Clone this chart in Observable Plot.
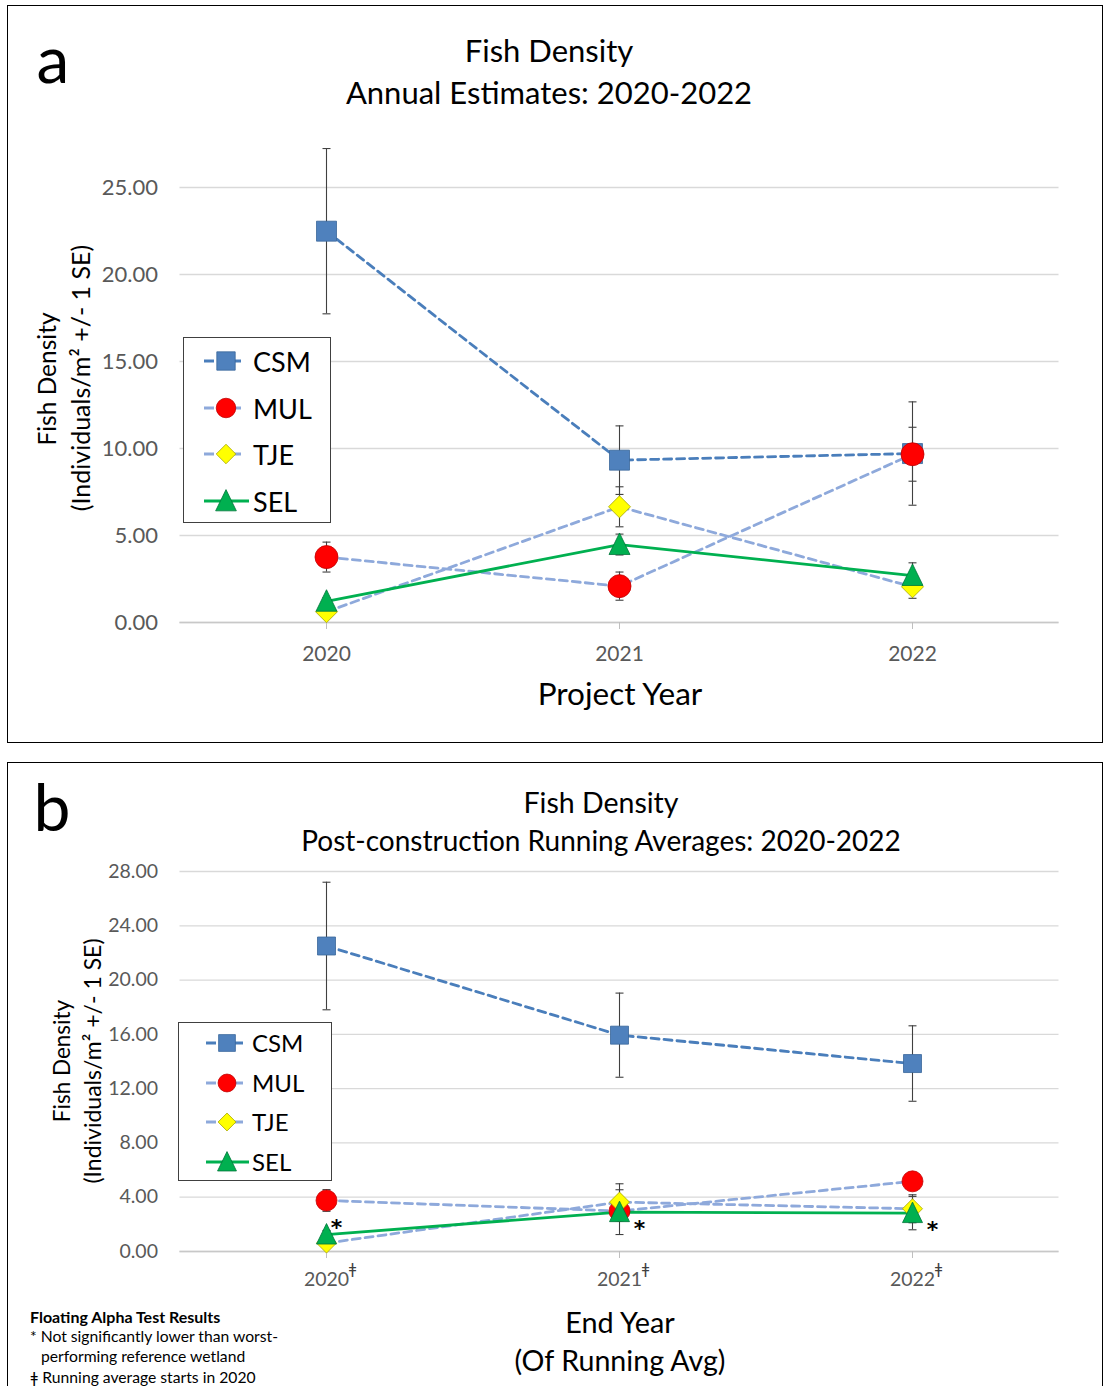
<!DOCTYPE html>
<html>
<head>
<meta charset="utf-8">
<script src="https://cdn.jsdelivr.net/npm/d3@7"></script>
<script src="https://cdn.jsdelivr.net/npm/@observablehq/plot@0.6"></script>
<style>
  html, body { margin: 0; padding: 0; background: #fff; }
  body { width: 1103px; height: 1386px; position: relative; overflow: hidden; font-family: Lato, "Open Sans", sans-serif; }
  .abs { position: absolute; white-space: nowrap; line-height: 1; }
  .panel { position: absolute; border: 1px solid #000; box-sizing: border-box; }
  .legend { position: absolute; border: 1px solid #404040; background: #fff; box-sizing: border-box; }
</style>
</head>
<body>
<script>
// ---------------- DATA ----------------
const years = [2020, 2021, 2022];
const seriesNames = ["CSM", "MUL", "TJE", "SEL"];

// Panel a: annual estimates (mean, +/- 1 SE)
const annualCSM = [22.49, 9.33, 9.71];
const annualCSMse = [4.75, 1.97, 2.97];
const annualMUL = [3.76, 2.09, 9.67];
const annualMULse = [0.86, 0.81, 1.55];
const annualTJE = [0.62, 6.65, 2.05];
const annualTJEse = [0.15, 1.15, 0.66];
const annualSEL = [1.22, 4.48, 2.70];
const annualSELse = [0.2, 0.6, 0.73];

// Panel b: post-construction running averages (mean, +/- 1 SE)
const runCSM = [22.51, 15.94, 13.85];
const runCSMse = [4.7, 3.1, 2.78];
const runMUL = [3.76, 2.98, 5.17];
const runMULse = [0.8, 0.5, 0.4];
const runTJE = [0.62, 3.64, 3.15];
const runTJEse = [0.2, 1.35, 1.03];
const runSEL = [1.25, 2.90, 2.83];
const runSELse = [0.3, 1.65, 1.23];
// Floating alpha test: SEL not significantly lower than worst reference wetland
const runSELflag = [true, true, true];

const yTicksA = [0, 5, 10, 15, 20, 25];
const yTicksB = [0, 4, 8, 12, 16, 20, 24, 28];

// ---------------- STYLE ----------------
const sym = (f) => ({ draw(c, size) { const r = Math.sqrt(size / Math.PI); f(c, r); } });
const squareSym = sym((c, r) => c.rect(-r, -r, 2 * r, 2 * r));
const circleSym = sym((c, r) => { c.moveTo(r, 0); c.arc(0, 0, r, 0, 2 * Math.PI); });
const diamondSym = sym((c, r) => { c.moveTo(0, -r); c.lineTo(r, 0); c.lineTo(0, r); c.lineTo(-r, 0); c.closePath(); });
const triSym = sym((c, r) => { c.moveTo(0, -r * 1.1); c.lineTo(r, r * 0.95); c.lineTo(-r, r * 0.95); c.closePath(); });
const capSym = sym((c, r) => { c.moveTo(-r, 0); c.lineTo(r, 0); });

const styles = {
  CSM: { line: "#4A7EBB", dash: "8,5", fill: "#4F81BD", stroke: "#3A679A", symbol: squareSym, ra: 10, rb: 9 },
  MUL: { line: "#8EA9DB", dash: "8,5", fill: "#FF0000", stroke: "#C00000", symbol: circleSym, ra: 11.5, rb: 10.5 },
  TJE: { line: "#8EA9DB", dash: "8,5", fill: "#FFFF00", stroke: "#A6A600", symbol: diamondSym, ra: 11, rb: 10 },
  SEL: { line: "#00B050", dash: null, fill: "#00B050", stroke: "#00763A", symbol: triSym, ra: 10.5, rb: 10 }
};

function buildRows(vals, ses) {
  const rows = [];
  seriesNames.forEach((s, i) => {
    years.forEach((yr, j) => rows.push({ series: s, year: yr, v: vals[i][j], se: ses[i][j] }));
  });
  return rows;
}
const rowsA = buildRows([annualCSM, annualMUL, annualTJE, annualSEL], [annualCSMse, annualMULse, annualTJEse, annualSELse]);
const rowsB = buildRows([runCSM, runMUL, runTJE, runSEL], [runCSMse, runMULse, runTJEse, runSELse]);

// ---------------- HELPERS ----------------
function addText(txt, x, y, opts = {}) {
  const d = document.createElement("div");
  d.className = "abs";
  d.textContent = txt;
  d.style.left = x + "px";
  d.style.top = y + "px";
  d.style.fontSize = (opts.size || 20) + "px";
  d.style.color = opts.color || "#000";
  if (opts.weight) d.style.fontWeight = opts.weight;
  const anchor = opts.anchor || "middle";
  let t = anchor === "middle" ? "translate(-50%,-50%)" : "translate(0,-50%)";
  if (opts.rotate) t += " rotate(" + opts.rotate + "deg)";
  d.style.transform = t;
  document.body.appendChild(d);
  return d;
}
function addBox(cls, l, t, w, h) {
  const d = document.createElement("div");
  d.className = cls;
  Object.assign(d.style, { left: l + "px", top: t + "px", width: w + "px", height: h + "px" });
  document.body.appendChild(d);
  return d;
}

function chart(rows, yTicks, cfg) {
  const marks = [
    Plot.ruleY(yTicks, { stroke: "#D9D9D9", strokeWidth: 1.3 }),
    Plot.ruleY([0], { stroke: "#C8C8C8", strokeWidth: 1.5 }),
    Plot.axisY(yTicks, { tickSize: 0, tickPadding: cfg.yPad, tickFormat: d3.format(".2f"), fill: "#595959", fontSize: cfg.yFont, label: null }),
    Plot.axisX(years, { tickSize: 7, tickPadding: cfg.xPad, stroke: "#BFBFBF", fill: "#595959", fontSize: cfg.xFont, tickFormat: d => String(d), label: null })
  ];
  // lines
  for (const s of seriesNames) {
    const st = styles[s];
    marks.push(Plot.line(rows.filter(d => d.series === s), {
      x: "year", y: "v", stroke: st.line, strokeWidth: 2.8, strokeDasharray: st.dash || undefined
    }));
  }
  // error bars
  marks.push(Plot.ruleX(rows, { x: "year", y1: d => d.v - d.se, y2: d => d.v + d.se, stroke: "#404040", strokeWidth: 1.1 }));
  marks.push(Plot.dot(rows, { x: "year", y: d => d.v + d.se, symbol: capSym, r: 4, stroke: "#404040", fill: "none", strokeWidth: 1.1 }));
  marks.push(Plot.dot(rows, { x: "year", y: d => d.v - d.se, symbol: capSym, r: 4, stroke: "#404040", fill: "none", strokeWidth: 1.1 }));
  // markers
  for (const s of seriesNames) {
    const st = styles[s];
    marks.push(Plot.dot(rows.filter(d => d.series === s), {
      x: "year", y: "v", symbol: st.symbol, r: cfg.panel === "a" ? st.ra : st.rb,
      fill: st.fill, stroke: st.stroke, strokeWidth: 0.8
    }));
  }
  if (cfg.extra) marks.push(...cfg.extra);
  return Plot.plot({
    width: cfg.width, height: cfg.height,
    marginLeft: cfg.ml, marginRight: cfg.mr, marginTop: cfg.mt, marginBottom: cfg.mb,
    style: { fontFamily: "Lato, 'Open Sans', sans-serif", fontSize: cfg.yFont + "px", background: "transparent", overflow: "visible" },
    x: { type: "point", domain: years, padding: 0.5 },
    y: { domain: cfg.ydomain },
    marks
  });
}

function legend(l, t, w, h, rowTop, rowStep, lineX1, lineX2, markX, textX, fontSize, rScale) {
  const box = addBox("legend", l, t, w, h);
  seriesNames.forEach((s, i) => {
    const st = styles[s];
    const cy = rowTop + i * rowStep;
    const svg = d3.create("svg").attr("width", 80).attr("height", 30)
      .style("position", "absolute").style("left", "0px").style("top", (cy - 15) + "px").style("overflow", "visible");
    svg.append("line").attr("x1", lineX1).attr("x2", lineX2).attr("y1", 15).attr("y2", 15)
      .attr("stroke", st.line).attr("stroke-width", 2.8).attr("stroke-dasharray", st.dash ? "10,17" : null);
    const r = (s === "CSM" ? 8 : s === "MUL" ? 8.5 : s === "TJE" ? 8.5 : 9) * rScale;
    const p = d3.symbol().type(st.symbol).size(Math.PI * r * r)();
    svg.append("path").attr("d", p).attr("transform", `translate(${markX},15)`)
      .attr("fill", st.fill).attr("stroke", st.stroke).attr("stroke-width", 0.8);
    box.appendChild(svg.node());
    const tx = document.createElement("div");
    tx.className = "abs";
    tx.textContent = s;
    Object.assign(tx.style, { left: textX + "px", top: cy + "px", transform: "translate(0,-50%)", fontSize: fontSize + "px", color: "#000" });
    box.appendChild(tx);
  });
}

// ---------------- PANEL A ----------------
addBox("panel", 7, 5, 1096, 738);
const plotA = chart(rowsA, yTicksA, {
  panel: "a", width: 1103, height: 742, ml: 179.5, mr: 44.5, mt: 187, mb: 120,
  ydomain: [0, 25], yFont: 22, xFont: 21, yPad: 22, xPad: 17
});
plotA.style.position = "absolute"; plotA.style.left = "0px"; plotA.style.top = "0px";
document.body.appendChild(plotA);

addText("a", 53, 58, { size: 66 });
addText("Fish Density", 549, 50, { size: 31 });
addText("Annual Estimates: 2020-2022", 549, 92, { size: 31 });
addText("Fish Density", 47, 379, { size: 24.5, rotate: -90 });
addText("(Individuals/m² +/- 1 SE)", 80, 378, { size: 25, rotate: -90 });
addText("Project Year", 620, 694, { size: 31.5 });
legend(183, 337, 148, 186, 23, 46.5, 20, 65, 42, 69, 27, 1.15);

// ---------------- PANEL B ----------------
addBox("panel", 7, 762, 1096, 700);
const selFlagRows = rowsB.filter(d => d.series === "SEL").filter((d, i) => runSELflag[i]);
const starFont = "'DejaVu Sans', sans-serif";
const plotB = chart(rowsB, yTicksB, {
  panel: "b", width: 1103, height: 560, ml: 179.5, mr: 44.5, mt: 109, mb: 71,
  ydomain: [0, 28], yFont: 19.5, xFont: 19.5, yPad: 22, xPad: 14,
  extra: [
    Plot.text(selFlagRows.filter(d => d.year === 2020), { x: "year", y: "v", text: () => "*", dx: 10, dy: -7, fontSize: 22, fontFamily: starFont, fill: "#000", fontWeight: "bold" }),
    Plot.text(selFlagRows.filter(d => d.year !== 2020), { x: "year", y: "v", text: () => "*", dx: 20, dy: 17, fontSize: 22, fontFamily: starFont, fill: "#000", fontWeight: "bold" }),
    Plot.text(years, { x: d => d, y: 0, text: () => "ǂ", dx: 26, dy: 17, fontSize: 16, fill: "#404040" })
  ]
});
plotB.style.position = "absolute"; plotB.style.left = "0px"; plotB.style.top = "762px";
document.body.appendChild(plotB);

addText("b", 52, 806, { size: 66 });
addText("Fish Density", 601, 802, { size: 28.5 });
addText("Post-construction Running Averages: 2020-2022", 601, 840, { size: 28 });
addText("Fish Density", 62, 1061, { size: 22.5, rotate: -90 });
addText("(Individuals/m² +/- 1 SE)", 92, 1061, { size: 23, rotate: -90 });
addText("End Year", 620, 1322, { size: 28.8 });
addText("(Of Running Avg)", 620, 1360, { size: 28.6 });
legend(178, 1022, 154, 159, 20, 39.7, 27, 70, 48, 73, 24, 1.05);

addText("Floating Alpha Test Results", 30, 1317, { size: 16, weight: "bold", anchor: "start" });
addText("* Not significantly lower than worst-", 30, 1337, { size: 15.7, anchor: "start" });
addText("performing reference wetland", 41, 1357, { size: 15.7, anchor: "start" });
addText("ǂ Running average starts in 2020", 30, 1378, { size: 15.7, anchor: "start" });
</script>
</body>
</html>
